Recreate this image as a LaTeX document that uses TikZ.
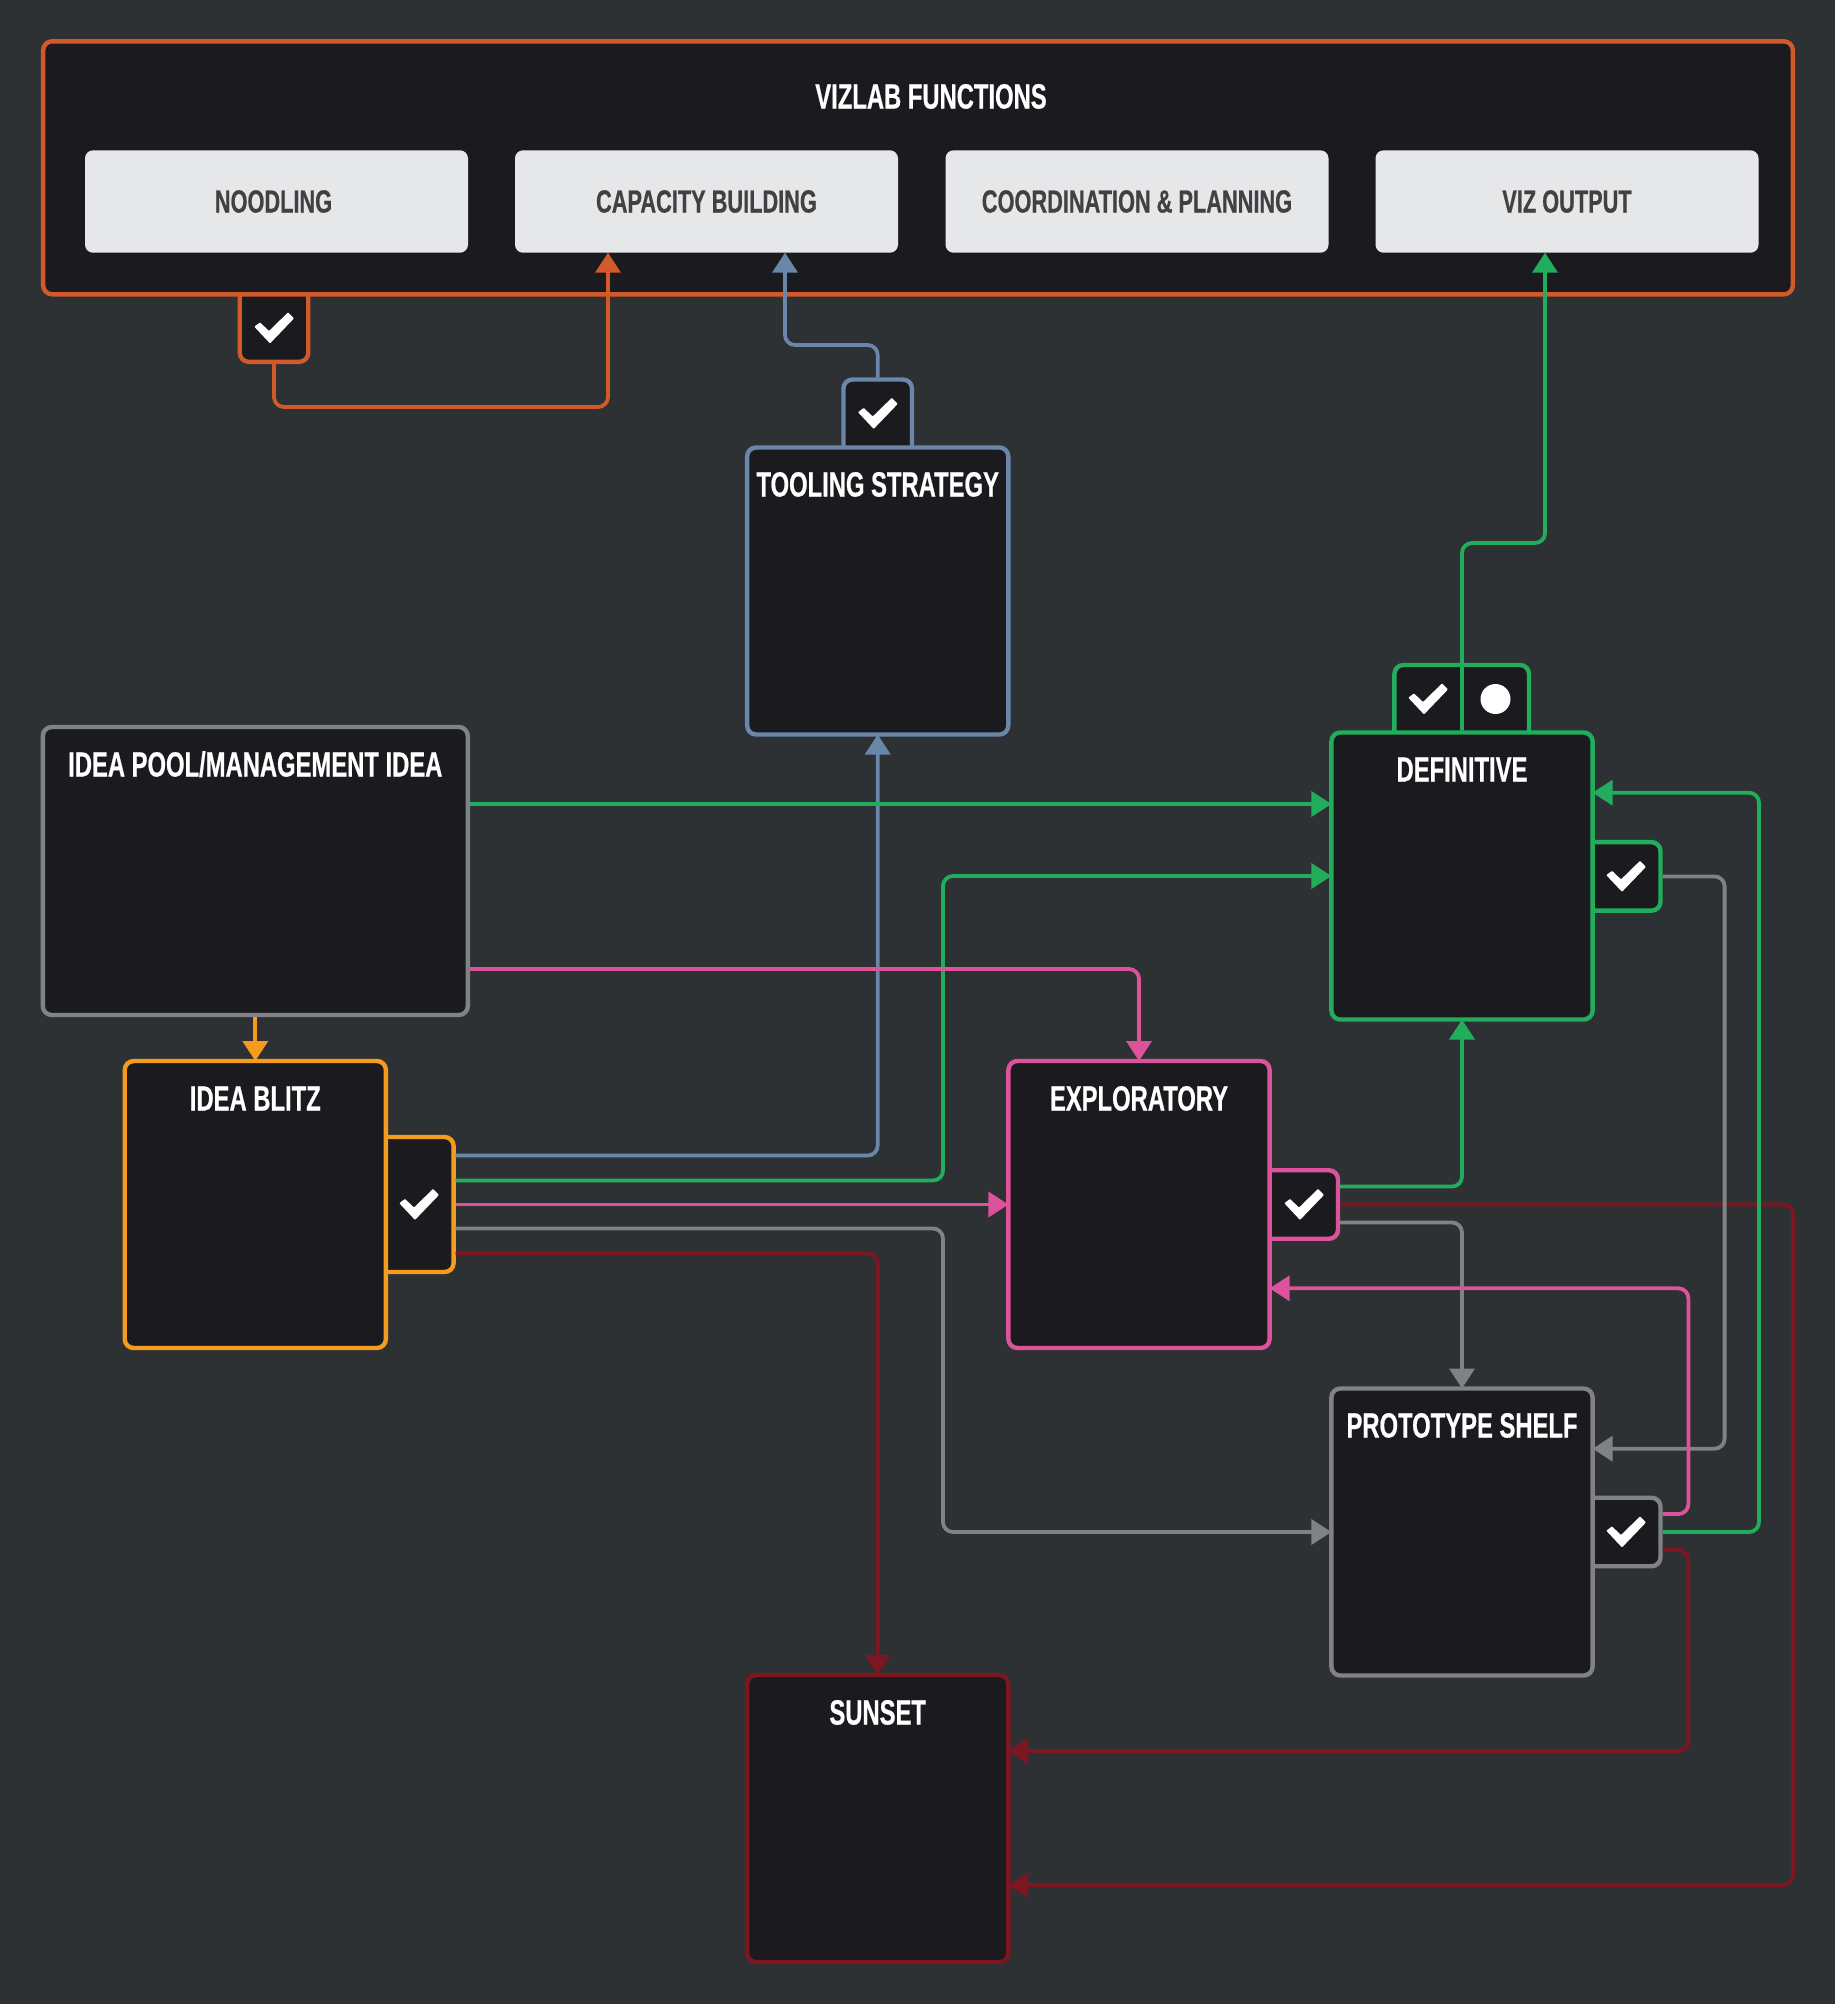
\documentclass[tikz,border=0pt]{standalone}
\usepackage{fontspec}
\usepackage{xcolor}
\usetikzlibrary{arrows.meta}
\newfontfamily\dinfont[FakeStretch=0.68,BoldFeatures={FakeBold=0.6}]{Liberation Sans}

\definecolor{pagegrey}{HTML}{2E3134}
\definecolor{panel}{HTML}{1B1B1F}
\definecolor{paper}{HTML}{E6E7E8}
\definecolor{ink}{HTML}{414042}
\definecolor{rust}{HTML}{D2592A}
\definecolor{slate}{HTML}{6A86A8}
\definecolor{leaf}{HTML}{21AD5C}
\definecolor{rose}{HTML}{DC529B}
\definecolor{ash}{HTML}{808285}
\definecolor{amber}{HTML}{F59B1E}
\definecolor{wine}{HTML}{7E1622}

\tikzset{
  panelbox/.style={draw=#1, fill=panel, line width=2.2pt, rounded corners=4.5pt, outer sep=0pt},
  lanebox/.style={panelbox=#1, minimum width=130.6pt, minimum height=143.5pt},
  sidetab/.style={panelbox=#1, minimum width=42pt, minimum height=34.25pt},
  uptab/.style={panelbox=#1, minimum width=34.25pt, minimum height=42pt},
  funcbox/.style={fill=paper, rounded corners=4pt, outer sep=0pt, minimum width=191.5pt, minimum height=51.2pt,
    text=ink, font=\dinfont\bfseries\fontsize{16}{16}\selectfont},
  boxtitle/.style={text=white, inner sep=0pt, text height=12.5pt, text depth=0pt,
    font=\dinfont\bfseries\fontsize{17.5}{17.5}\selectfont},
  link/.style={draw=#1, line width=1.9pt, rounded corners=5pt, shorten <=1pt, -{Triangle[length=10pt,width=12.5pt]}},
  tick/.pic={\fill[white, rounded corners=0.4pt] (-14,-5.6) -- (-19.7,-1.3) -- (-4,15.4) -- (20,-9.6) -- (14,-15.6) -- (-5,3) -- cycle;}
}

\begin{document}
\begin{tikzpicture}[x=0.5pt,y=-0.5pt]
\useasboundingbox (0,0) rectangle (1835,2004);
\fill[pagegrey] (0,0) rectangle (1835,2004);

% Functions panel
\node[uptab=rust] (noodlingtab) at (274,319.8) {};
\node[panelbox=rust, minimum width=874.85pt, minimum height=126.5pt] (functions) at (918,167.8) {};
\node[boxtitle] (functionstitle) at (931,96) {VIZLAB FUNCTIONS};
\node[funcbox] (noodling) at (276.5,201.5) {NOODLING\hspace*{3pt}};
\node[funcbox] (capacity) at (706.5,201.5) {CAPACITY BUILDING};
\node[funcbox] (coordination) at (1137,201.5) {COORDINATION \& PLANNING};
\node[funcbox] (vizoutput) at (1567,201.5) {VIZ OUTPUT};

% Tooling
\node[uptab=slate] (toolingtab) at (877.7,421.5) {};
\node[lanebox=slate] (tooling) at (877.7,591) {};
\node[boxtitle] (toolingtitle) at (877.7,484) {TOOLING STRATEGY};

% Idea pool and blitz
\node[panelbox=ash, minimum width=212.5pt, minimum height=144pt] (pool) at (255.3,871) {};
\node[boxtitle] (pooltitle) at (255.3,764) {IDEA POOL/MANAGEMENT IDEA};
\node[panelbox=amber, minimum width=41.8pt, minimum height=67.5pt] (blitztab) at (411.8,1204.5) {};
\node[lanebox=amber] (blitz) at (255.3,1204.5) {};
\node[boxtitle] (blitztitle) at (255.3,1098) {IDEA BLITZ};

% Exploratory
\node[sidetab=rose] (exploratorytab) at (1296,1204.5) {};
\node[lanebox=rose] (exploratory) at (1139,1204.5) {};
\node[boxtitle] (exploratorytitle) at (1139,1098) {EXPLORATORY};

% Definitive
\node[panelbox=leaf, minimum width=67.3pt, minimum height=42pt] (definitivetab) at (1461.7,707) {};
\node[sidetab=leaf] (definitiveside) at (1618.5,876.4) {};
\node[lanebox=leaf] (definitive) at (1462,876) {};
\node[boxtitle] (definitivetitle) at (1462,769) {DEFINITIVE};

% Prototype shelf
\node[sidetab=ash] (prototypetab) at (1618.5,1532) {};
\node[lanebox=ash] (prototype) at (1462,1532) {};
\node[boxtitle] (prototypetitle) at (1462,1425) {PROTOTYPE SHELF};

% Sunset
\node[lanebox=wine] (sunset) at (877.7,1818.5) {};
\node[boxtitle] (sunsettitle) at (877.7,1712) {SUNSET};

% Marks
\pic at (274,328) {tick};
\pic at (877.7,413.5) {tick};
\pic at (419,1204.5) {tick};
\pic at (1304,1204.5) {tick};
\pic at (1428,699) {tick};
\pic at (1626,876.4) {tick};
\pic at (1626,1532) {tick};
\node[circle, fill=white, inner sep=0pt, minimum size=15pt] (definitivedot) at (1495.5,699) {};

% Sunset links
\draw[link=wine] ([yshift=-24.5pt]blitztab.east) -| (sunset.north);
\draw[link=wine] (exploratorytab.east) -| (1793,1885) -- ([yshift=-33.25pt]sunset.east);
\draw[link=wine] ([yshift=-9pt]prototypetab.east) -| (1688.4,1751) -- ([yshift=33.75pt]sunset.east);

% Grey links
\draw[link=ash] ([yshift=-12pt]blitztab.east) -| (943,1532) -- (prototype.west);
\draw[link=ash] ([yshift=-9pt]exploratorytab.east) -| (prototype.north);
\draw[link=ash] (definitiveside.east) -| (1724.6,1448.7) -- ([yshift=41.65pt]prototype.east);

% Tooling links
\draw[link=slate] ([yshift=24.5pt]blitztab.east) -| (tooling.south);
\draw[link=slate] (toolingtab.north) -- (877.7,345) -| ([xshift=39.25pt]capacity.south);

% Green links
\draw[link=leaf] ([yshift=33.5pt]pool.east) -- ([yshift=36pt]definitive.west);
\draw[link=leaf] ([yshift=12pt]blitztab.east) -| (943,876) -- (definitive.west);
\draw[link=leaf] ([yshift=9pt]exploratorytab.east) -| (definitive.south);
\draw[link=leaf] (prototypetab.east) -| (1759,792.7) -- ([yshift=41.65pt]definitive.east);
\draw[link=leaf] (definitive.north) -- (1462,543) -| ([xshift=-11pt]vizoutput.south);

% Pink links
\draw[link=rose] ([yshift=-49pt]pool.east) -| (exploratory.north);
\draw[link=rose] (blitztab.east) -- (exploratory.west);
\draw[link=rose] ([yshift=9pt]prototypetab.east) -| (1688.4,1288.3) -- ([yshift=-41.9pt]exploratory.east);

% Idea and noodling links
\draw[link=amber] (pool.south) -- (blitz.north);
\draw[link=rust] (noodlingtab.south) -- (274,407) -| ([xshift=-49.25pt]capacity.south);
\end{tikzpicture}
\end{document}
